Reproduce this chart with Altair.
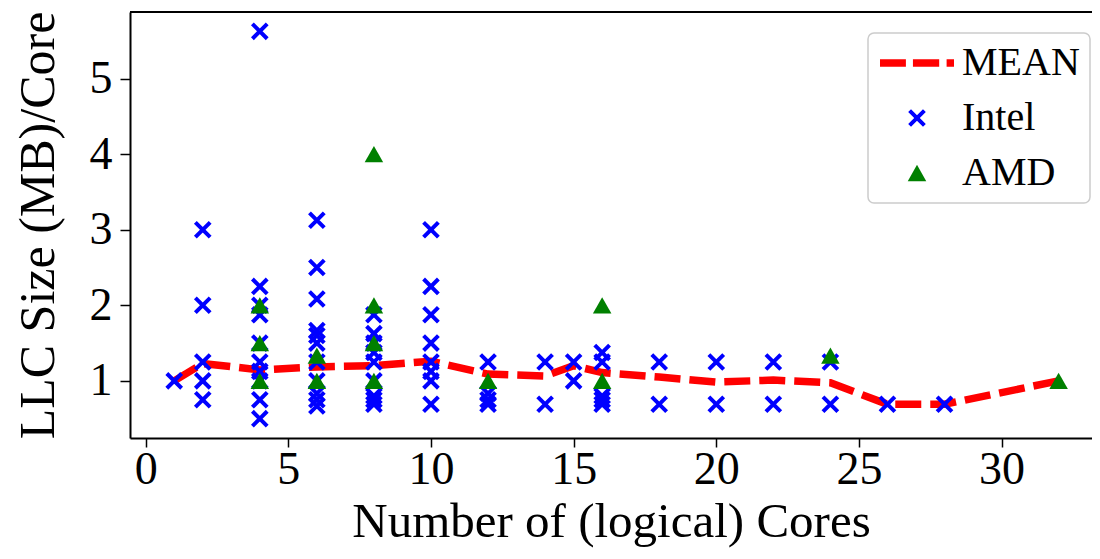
import altair as alt
import pandas as pd

# ---- data ----
intel_cores = ([1] + [2] * 5 + [4] * 10 + [6] * 11 + [8] * 9 + [10] * 8 + [12] * 4
               + [14] * 2 + [15] * 2 + [16] * 5 + [18] * 2 + [20] * 2 + [22] * 2
               + [24] * 2 + [26] + [28])
intel_llc = ([1.0]
             + [3.0, 2.0, 1.25, 1.0, 0.75]
             + [5.625, 2.25, 2.0, 1.875, 1.5, 1.25, 1.125, 1.0, 0.75, 0.5]
             + [3.125, 2.5, 2.083, 1.667, 1.6, 1.5, 1.25, 1.0, 0.833, 0.75, 0.667]
             + [1.875, 1.625, 1.5, 1.375, 1.25, 1.0, 0.8, 0.75, 0.69]
             + [3.0, 2.25, 1.875, 1.5, 1.25, 1.125, 1.0, 0.69]
             + [1.25, 0.833, 0.75, 0.69]
             + [1.25, 0.69]
             + [1.25, 1.0]
             + [1.375, 1.25, 0.8, 0.75, 0.69]
             + [1.25, 0.69]
             + [1.25, 0.69]
             + [1.25, 0.69]
             + [1.25, 0.69]
             + [0.69]
             + [0.69])
amd_cores = [4, 4, 4, 6, 6, 8, 8, 8, 8, 12, 16, 16, 24, 32]
amd_llc = [2.0, 1.5, 1.0, 1.333, 1.0, 4.0, 2.0, 1.5, 1.0, 1.0, 2.0, 1.0, 1.333, 1.0]
mean_cores = [1, 2, 4, 6, 8, 10, 12, 14, 15, 16, 18, 20, 22, 24, 26, 28, 32]
mean_llc = [1.0, 1.23, 1.145, 1.185, 1.2, 1.26, 1.09, 1.065, 1.2, 1.11, 1.05,
            0.985, 1.01, 0.975, 0.69, 0.69, 1.0]
series_names = ["MEAN", "Intel", "AMD"]
x_ticks = [0, 5, 10, 15, 20, 25, 30]
y_ticks = [1, 2, 3, 4, 5]

# ---- styling ----
W, H = 962, 426
FONT = "Liberation Serif"
MEAN_PATH = ("M-1,-0.1H-0.3V0.1H-1Z M-0.11,-0.1H0.6V0.1H-0.11Z "
             "M0.8,-0.1H1V0.1H0.8Z")
X_PATH = "M-0.2,-0.2L0.2,0.2M-0.2,0.2L0.2,-0.2"
TRI_PATH = "M0,-0.22L-0.25,0.22L0.25,0.22Z"

pts = pd.DataFrame({
    "cores": intel_cores + amd_cores,
    "llc": intel_llc + amd_llc,
    "series": ["Intel"] * len(intel_cores) + ["AMD"] * len(amd_cores),
})
mean_df = pd.DataFrame({"cores": mean_cores, "llc": mean_llc})

xscale = alt.Scale(domain=[-0.55, 33.17], nice=False, zero=False)
yscale = alt.Scale(domain=[0.244, 5.881], nice=False, zero=False)

axis_common = dict(grid=False, tickWidth=1.5, tickColor="black",
                   domainColor="black", domainWidth=2, labelFont=FONT,
                   labelFontSize=46, labelColor="black", titleFont=FONT,
                   titleFontWeight="normal", titleColor="black")
xaxis = alt.Axis(values=x_ticks, title="Number of (logical) Cores",
                 tickSize=9, labelPadding=0, titlePadding=5, titleFontSize=49,
                 labelFlush=False, **axis_common)
yaxis = alt.Axis(values=y_ticks, title="LLC Size (MB)/Core", titleFontSize=50,
                 tickSize=10, labelPadding=8, titlePadding=26, **axis_common)

leg = alt.Legend(orient="none", legendX=738, legendY=21, title=None,
                 labelFont=FONT, labelFontSize=40, labelColor="black",
                 labelOffset=6, padding=10, rowPadding=15, clipHeight=40,
                 strokeColor="#cccccc", fillColor="white", cornerRadius=6,
                 symbolStrokeWidth=4, symbolSize=5476, symbolOpacity=1)

enc_x = alt.X("cores:Q", scale=xscale, axis=xaxis)
enc_y = alt.Y("llc:Q", scale=yscale, axis=yaxis)

line = alt.Chart(mean_df).mark_line(
    color="#ff0000", strokeWidth=7.5, strokeDash=[26, 9]
).encode(x=enc_x, y=enc_y)

points = alt.Chart(pts).mark_point(opacity=1, strokeWidth=4).encode(
    x=enc_x,
    y=enc_y,
    shape=alt.Shape("series:N", legend=leg,
                    scale=alt.Scale(domain=series_names,
                                    range=[MEAN_PATH, X_PATH, TRI_PATH])),
    fill=alt.Fill("series:N", legend=leg,
                  scale=alt.Scale(domain=series_names,
                                  range=["#ff0000", "transparent", "#008000"])),
    stroke=alt.Stroke("series:N", legend=leg,
                      scale=alt.Scale(domain=series_names,
                                      range=["transparent", "#0000ff", "transparent"])),
    size=alt.value(5476),
)

top = alt.Chart(pd.DataFrame({"a": [0]})).mark_rule(
    color="black", strokeWidth=2
).encode(x=alt.value(0), x2=alt.value(W), y=alt.value(0))

chart = alt.layer(line, points, top).properties(
    width=W, height=H,
    autosize=alt.AutoSizeParams(type="none"),
    padding={"left": 122, "top": 4, "right": 0, "bottom": 113},
).configure_view(stroke="transparent").configure_legend(strokeWidth=1.5)

chart.save("out.html", embed_options={"renderer": "svg", "actions": False})
